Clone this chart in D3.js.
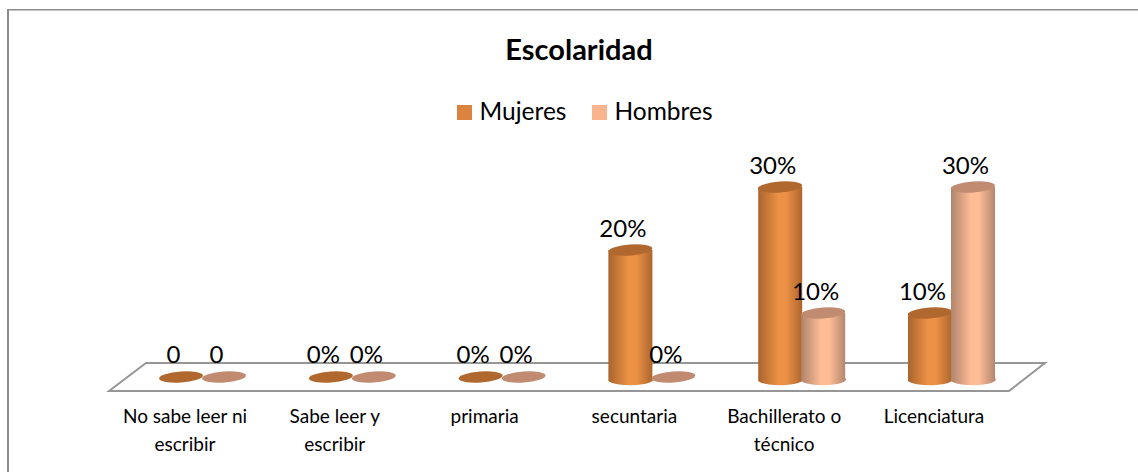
<!DOCTYPE html>
<html><head><meta charset="utf-8">
<script src="https://cdn.jsdelivr.net/npm/d3@7"></script>
<style>html,body{margin:0;padding:0;background:#fff}svg{display:block}text{font-family:Lato,"Open Sans",sans-serif;fill:#000}</style>
</head><body><svg id="c" width="1138" height="472"></svg>
<script>
const categories=[["No sabe leer ni","escribir"],["Sabe leer y","escribir"],["primaria"],["secuntaria"],["Bachillerato o","técnico"],["Licenciatura"]];
const mujeres=[0,0,0,0.2,0.3,0.1];
const hombres=[0,0,0,0,0.1,0.3];
const mujeresLabels=["0","0%","0%","20%","30%","10%"];
const hombresLabels=["0","0%","0%","0%","10%","30%"];
const seriesNames=["Mujeres","Hombres"];
const svg=d3.select("#c"),W=1138,H=472;
const defs=svg.append("defs");
function grad(id,edge,mid){const g=defs.append("linearGradient").attr("id",id);
 [[0,edge],[.45,mid],[.62,mid],[1,edge]].forEach(s=>g.append("stop").attr("offset",s[0]).attr("stop-color",s[1]));}
grad("gm","#a9642c","#ec9146");grad("gh","#b0846c","#ffbd96");
const styles=[{fill:"url(#gm)",top:"#b0682f",legend:"#dc843f"},{fill:"url(#gh)",top:"#c08b70",legend:"#f9b48e"}];
svg.append("rect").attr("x",7).attr("y",9).attr("width",2).attr("height",H-9).attr("fill","#8c8c8c");
svg.append("rect").attr("x",7).attr("y",9).attr("width",W-7).attr("height",1.5).attr("fill","#8c8c8c");
const x=d3.scaleBand().domain(d3.range(categories.length)).range([127.6,1026.4]);
const y=d3.scaleLinear().domain([0,.3]).range([376,187]);
const rx=22,ry=5.5;
svg.append("path").attr("d","M109,391L146,363L1045,363L1009,391Z").attr("fill","none").attr("stroke","#969696").attr("stroke-width",2);
const off=[-21.5,21.5];
const cxOf=(i,s)=>x(i)+x.bandwidth()/2+off[s];
[mujeres,hombres].forEach((vals,s)=>{
 const g=svg.append("g");
 vals.forEach((v,i)=>{
  const cx=cxOf(i,s),yt=y(v),yb=y(0);
  if(v>0){
   g.append("path").attr("d",`M${cx-rx},${yt}L${cx-rx},${yb+5}A${rx},${ry} 0 0 0 ${cx+rx},${yb+2}L${cx+rx},${yt}Z`).attr("fill",styles[s].fill);
  }
  const ey=v>0?yt:yb+1;
  g.append("ellipse").attr("cx",cx).attr("cy",ey).attr("rx",rx).attr("ry",ry)
    .attr("transform",`rotate(-4 ${cx} ${ey})`).attr("fill",styles[s].top);
 });
});
[[mujeres,mujeresLabels],[hombres,hombresLabels]].forEach(([vals,labs],s)=>{
 svg.append("g").selectAll("text").data(vals).join("text")
  .attr("x",(d,i)=>cxOf(i,s)-7.5)
  .attr("y",d=>d>0?y(d)-13.5:363)
  .attr("text-anchor","middle").attr("font-size",24).text((d,i)=>labs[i]);
});
const cat=svg.append("g").selectAll("text").data(categories).join("text")
 .attr("text-anchor","middle").attr("font-size",19)
 .attr("transform",(d,i)=>`translate(${x(i)+x.bandwidth()/2-17.5},423)`);
cat.selectAll("tspan").data(d=>d).join("tspan").attr("x",0).attr("dy",(d,i)=>i?28:0).text(d=>d);
svg.append("text").attr("x",579).attr("y",60).attr("text-anchor","middle").attr("font-size",29).attr("font-weight",700).text("Escolaridad");
const lx=[457,592];
seriesNames.forEach((n,i)=>{
 svg.append("rect").attr("x",lx[i]).attr("y",105).attr("width",15).attr("height",15).attr("fill",styles[i].legend);
 svg.append("text").attr("x",lx[i]+22.5).attr("y",119.5).attr("font-size",24.5).text(n);
});
</script></body></html>
